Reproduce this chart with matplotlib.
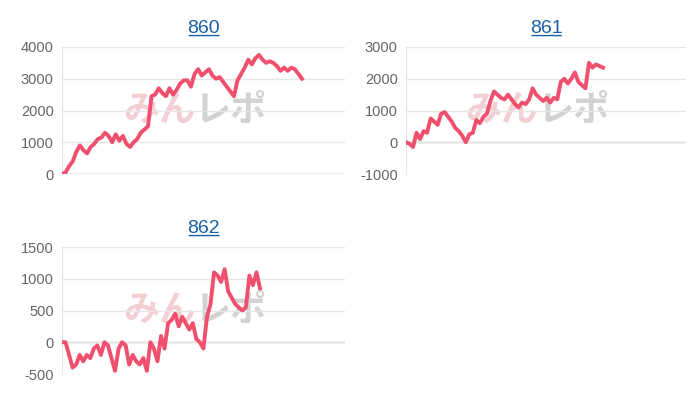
import matplotlib
matplotlib.use("Agg")
import matplotlib.pyplot as plt

titles = ["860", "861", "862"]
s860 = [0,50,250,400,700,900,750,650,850,950,1100,1150,1300,1200,1000,1250,1050,1200,950,850,1000,1100,1300,1400,1500,2450,2500,2700,2550,2450,2700,2500,2650,2850,2950,2950,2750,3150,3300,3100,3200,3300,3100,3000,3050,2900,2750,2600,2450,2950,3150,3350,3600,3450,3650,3750,3600,3500,3550,3500,3400,3250,3350,3250,3350,3300,3150,3000]
s861 = [0,-50,-150,300,100,350,300,750,650,550,900,950,800,650,450,350,200,0,250,300,700,600,800,900,1300,1600,1500,1400,1350,1500,1350,1200,1100,1250,1200,1350,1700,1500,1400,1300,1400,1250,1400,1350,1900,2000,1850,2000,2200,1900,1800,1700,2500,2350,2450,2400,2350]
s862 = [0,0,-200,-400,-350,-200,-300,-200,-250,-100,-50,-200,0,-50,-250,-450,-100,0,-50,-350,-200,-300,-350,-250,-450,0,-100,-300,100,-100,300,350,450,250,400,300,200,300,50,0,-100,400,600,1100,1050,950,1150,800,700,600,550,500,550,1050,900,1100,850]
series = [s860, s861, s862]
yticks = [[0,1000,2000,3000,4000],[-1000,0,1000,2000,3000],[-500,0,500,1000,1500]]

plt.rcParams['font.family'] = ['Noto Sans CJK JP', 'DejaVu Sans']
fig = plt.figure(figsize=(7, 4), dpi=100)
rects = [(62/700, 1-174/400, 283/700, 127/400),
         (406/700, 1-174/400, 280/700, 127/400),
         (62/700, 1-374/400, 283/700, 127/400)]
ends = [240/283, 197/280, 198/283]
for i in range(3):
    ax = fig.add_axes(rects[i])
    d = series[i]
    n = len(d)
    ax.set_xlim(0, (n-1)/ends[i])
    yt = yticks[i]
    ax.set_ylim(yt[0], yt[-1])
    ax.set_yticks(yt)
    ax.set_yticklabels([str(v) for v in yt], fontsize=10.5, color='#666666', family='Liberation Sans')
    ax.set_xticks([])
    ax.grid(axis='y', color='#e6e6e6', lw=1)
    ax.axhline(0, color='#bbbbbb', lw=1, zorder=1)
    for s in ['top', 'right', 'bottom']:
        ax.spines[s].set_visible(False)
    ax.spines['left'].set_color('#e6e6e6')
    ax.tick_params(axis='y', length=0, pad=6)
    ax.text(0.47, 0.5, "みん", transform=ax.transAxes, fontsize=26, fontweight='bold',
            fontstyle='italic', color='#eab0b5', alpha=0.6, ha='right', va='center', zorder=1)
    ax.text(0.47, 0.5, "レポ", transform=ax.transAxes, fontsize=26, fontweight='bold',
            fontstyle='italic', color='#b5b5b5', alpha=0.6, ha='left', va='center', zorder=1)
    ax.plot(range(n), d, color='#f0506e', lw=2.8, zorder=3)
    ax.text(0.5, 1.11, titles[i], transform=ax.transAxes, fontsize=14, color='#1a5fa8',
            ha='center', va='baseline', family='Liberation Sans')
    ax.annotate("", xy=(0.44, 1.09), xytext=(0.565, 1.09), xycoords='axes fraction',
                arrowprops=dict(arrowstyle='-', color='#1a5fa8', lw=1))
fig.savefig("out.png", dpi=100)
